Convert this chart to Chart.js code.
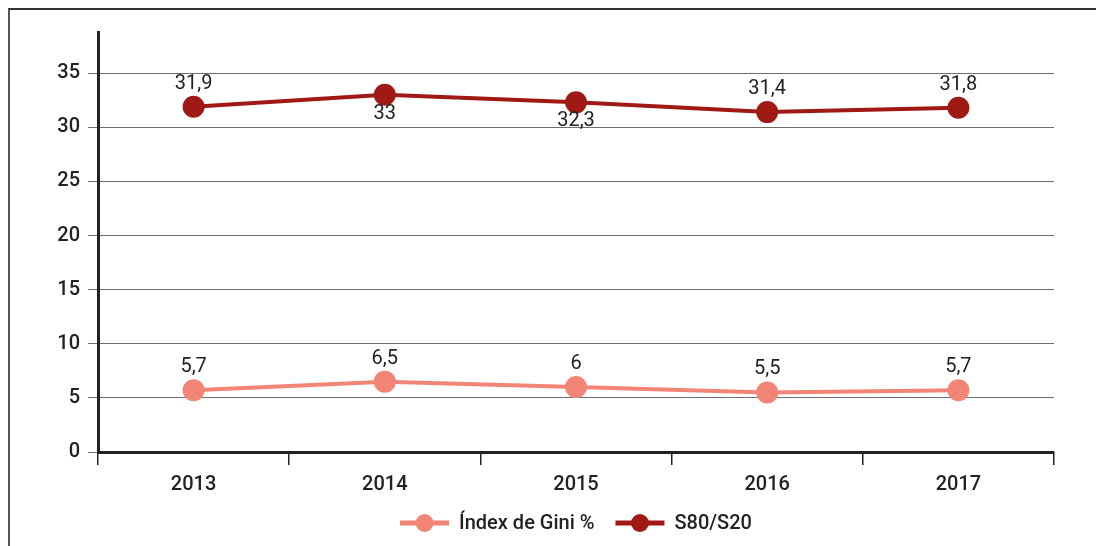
<!DOCTYPE html>
<html>
<head>
<meta charset="utf-8">
<script src="https://cdn.jsdelivr.net/npm/chart.js@4"></script>
<style>
  html, body { margin: 0; padding: 0; background: #fff; }
  #wrap { position: relative; width: 1096px; height: 546px; }
  #frame { position: absolute; left: 8px; top: 8px; right: 0; bottom: 0; border-left: 2px solid #555; border-top: 2px solid #333; }
  canvas { position: absolute; left: 0; top: 0; }
</style>
</head>
<body>
<div id="wrap">
  <div id="frame"></div>
  <canvas id="lineCanvas" width="1096" height="546"></canvas>
</div>
<script>
const years = ["2013", "2014", "2015", "2016", "2017"]
const giniValues = [5.7, 6.5, 6, 5.5, 5.7]
const s80Values = [31.9, 33, 32.3, 31.4, 31.8]
const seriesNames = ["Índex de Gini %", "S80/S20"]

const FONT = "Roboto, 'DejaVu Sans', sans-serif"
const TEXT = "#222"
const giniColor = "#f28576"
const s80Color = "#a01a15"

// which labels sit under their point (per dataset)
const labelsBelow = [
  [false, false, false, false, false],
  [false, true, true, false, false]
]

const fmt = v => String(v).replace(".", ",")

const valueLabels = {
  id: "valueLabels",
  afterDatasetsDraw(chart) {
    const ctx = chart.ctx
    ctx.save()
    ctx.font = "20px " + FONT
    ctx.fillStyle = TEXT
    ctx.textAlign = "center"
    ctx.textBaseline = "middle"
    chart.data.datasets.forEach((ds, i) => {
      chart.getDatasetMeta(i).data.forEach((pt, j) => {
        const dy = labelsBelow[i][j] ? 19 : -23
        ctx.fillText(fmt(ds.data[j]), pt.x, pt.y + dy)
      })
    })
    ctx.restore()
  }
}

const customLegend = {
  id: "customLegend",
  afterDraw(chart) {
    const ctx = chart.ctx
    const area = chart.chartArea
    ctx.save()
    ctx.font = "500 20px " + FONT
    ctx.textBaseline = "middle"
    const lineW = 49, gapText = 10, gapItem = 21
    const widths = chart.data.datasets.map(ds => lineW + gapText + ctx.measureText(ds.label).width)
    const total = widths.reduce((a, b) => a + b, 0) + gapItem * (widths.length - 1)
    let x = (area.left + area.right) / 2 - total / 2
    const y = 523
    chart.data.datasets.forEach((ds, i) => {
      ctx.strokeStyle = ds.borderColor
      ctx.lineWidth = 5
      ctx.beginPath()
      ctx.moveTo(x, y)
      ctx.lineTo(x + lineW, y)
      ctx.stroke()
      ctx.fillStyle = ds.borderColor
      ctx.beginPath()
      ctx.arc(x + lineW / 2, y, 9, 0, Math.PI * 2)
      ctx.fill()
      ctx.fillStyle = TEXT
      ctx.textAlign = "left"
      ctx.fillText(ds.label, x + lineW + gapText, y + 1)
      x += widths[i] + gapItem
    })
    ctx.restore()
  }
}

const lineCanvas = document.getElementById("lineCanvas")

const lineChart = new Chart(lineCanvas, {
  type: "line",
  data: {
    labels: years,
    datasets: [
      {
        label: seriesNames[0],
        data: giniValues,
        borderColor: giniColor,
        backgroundColor: giniColor,
        borderWidth: 4,
        pointRadius: 9,
        pointHoverRadius: 9,
        tension: 0
      },
      {
        label: seriesNames[1],
        data: s80Values,
        borderColor: s80Color,
        backgroundColor: s80Color,
        borderWidth: 4,
        pointRadius: 9,
        pointHoverRadius: 9,
        tension: 0
      }
    ]
  },
  options: {
    responsive: false,
    animation: false,
    layout: { padding: { top: 32, right: 42, left: 0, bottom: 0 } },
    plugins: {
      legend: { display: false },
      tooltip: { enabled: false }
    },
    scales: {
      x: {
        offset: true,
        grid: {
          offset: true,
          drawOnChartArea: false,
          color: "#222",
          lineWidth: 1.5,
          tickLength: 13
        },
        border: { color: "#222", width: 3 },
        ticks: { color: TEXT, font: { family: FONT, size: 20, weight: "500" }, padding: 8 },
        afterFit(scale) { scale.height = 94 }
      },
      y: {
        min: 0,
        max: 38.8,
        afterBuildTicks(scale) {
          scale.ticks = [0, 5, 10, 15, 20, 25, 30, 35].map(v => ({ value: v }))
        },
        grid: { color: "#6e6e6e", lineWidth: 1, tickLength: 10 },
        border: { color: "#222", width: 3 },
        ticks: { color: TEXT, font: { family: FONT, size: 20, weight: "500" }, padding: 8 },
        afterFit(scale) { scale.width = 98 }
      }
    }
  },
  plugins: [valueLabels, customLegend]
})
</script>
</body>
</html>
